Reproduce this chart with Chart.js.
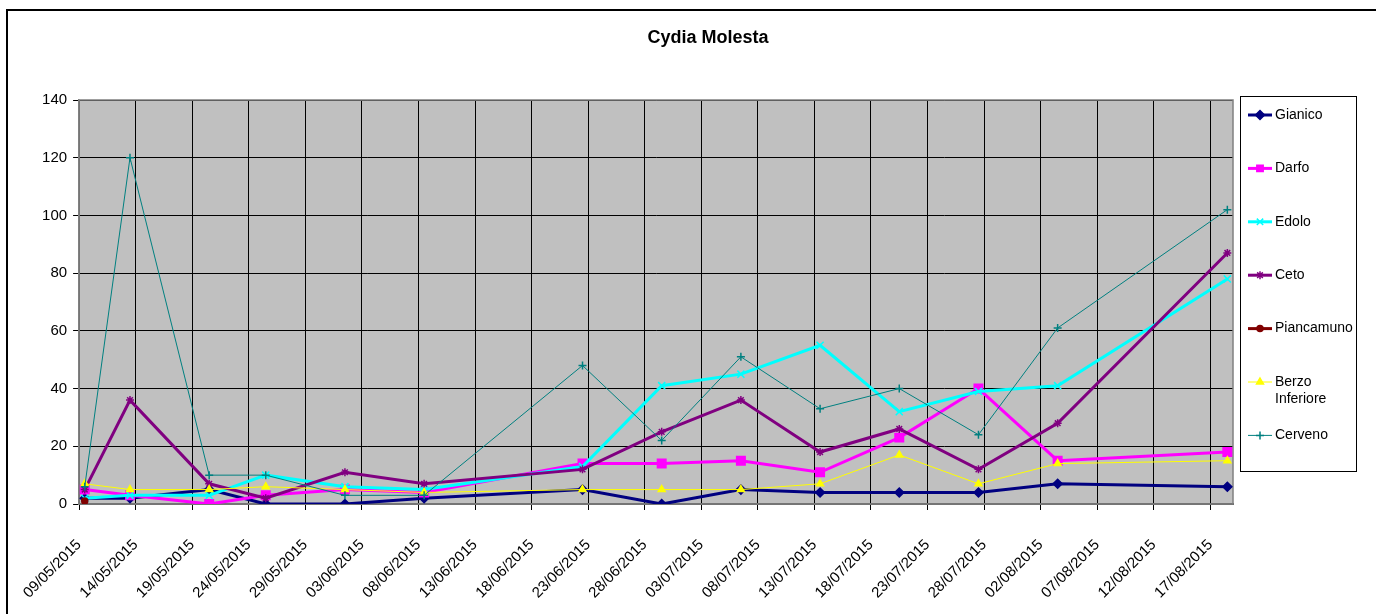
<!DOCTYPE html>
<html>
<head>
<meta charset="utf-8">
<title>Cydia Molesta</title>
<script src="https://cdn.jsdelivr.net/npm/chart.js@4.4.1/dist/chart.umd.min.js"></script>
<style>
  html, body { margin: 0; padding: 0; background: #fff; }
  #wrap { width: 1376px; height: 614px; }
</style>
</head>
<body>
<div id="wrap"><canvas id="chart" width="1376" height="614"></canvas></div>
<script>
// --- data ---
const chartTitle = 'Cydia Molesta';
const axisStart = '09/05/2015';
const axisDays = 102;   // 09/05 .. 19/08 (exclusive)

const sampleDates = ['09/05/2015', '13/05/2015', '20/05/2015', '25/05/2015', '01/06/2015',
    '08/06/2015', '22/06/2015', '29/06/2015', '06/07/2015', '13/07/2015',
    '20/07/2015', '27/07/2015', '03/08/2015', '18/08/2015'];

const tickLabels = ['09/05/2015', '14/05/2015', '19/05/2015', '24/05/2015', '29/05/2015',
    '03/06/2015', '08/06/2015', '13/06/2015', '18/06/2015', '23/06/2015',
    '28/06/2015', '03/07/2015', '08/07/2015', '13/07/2015', '18/07/2015',
    '23/07/2015', '28/07/2015', '02/08/2015', '07/08/2015', '12/08/2015', '17/08/2015'];

const seriesNames = ['Gianico', 'Darfo', 'Edolo', 'Ceto', 'Piancamuno', 'Berzo Inferiore', 'Cerveno'];

const gianico    = [2, 2, 5, 0, 0, 2, 5, 0, 5, 4, 4, 4, 7, 6];
const darfo      = [5, 3, 0, 3, 5, 4, 14, 14, 15, 11, 23, 40, 15, 18];
const edolo      = [2, 3, 3, 10, 6, 5, 13, 41, 45, 55, 32, 39, 41, 78];
const ceto       = [5, 36, 7, 2, 11, 7, 12, 25, 36, 18, 26, 12, 28, 87];
const piancamuno = [1, null, null, null, null, null, null, null, null, null, null, null, null, null];
const berzo      = [7, 5, 5, 6, 5, 4, 5, 5, 5, 7, 17, 7, 14, 15];
const cerveno    = [6, 120, 10, 10, 3, 3, 48, 22, 51, 33, 40, 24, 61, 102];

const yTicks = { min: 0, max: 140, step: 20 };

// --- helpers ---
function parseDay(s) {
    const p = s.split('/');
    return Date.UTC(+p[2], +p[1] - 1, +p[0]) / 86400000;
}
const day0 = parseDay(axisStart);

// Excel date axis: each point sits in the middle of its day slot
function toPoints(values) {
    return values.map((v, i) => ({ x: parseDay(sampleDates[i]) - day0 + 0.5, y: v }));
}

const FONT = 'Arial, "Liberation Sans", sans-serif';

const styles = [
    { color: '#000080', width: 3, point: 'rectRot', radius: 4.5 },
    { color: '#FF00FF', width: 3, point: 'rect', radius: 6 },
    { color: '#00FFFF', width: 3, point: 'crossRot', radius: 5 },
    { color: '#800080', width: 3, point: 'star', radius: 4 },
    { color: '#800000', width: 3, point: 'circle', radius: 3 },
    { color: '#FFFF00', width: 1, point: 'triangle', radius: 4 },
    { color: '#008080', width: 1, point: 'cross', radius: 4 }
];

const seriesValues = [gianico, darfo, edolo, ceto, piancamuno, berzo, cerveno];

const datasets = seriesValues.map((vals, i) => ({
    label: seriesNames[i],
    data: toPoints(vals),
    borderColor: styles[i].color,
    backgroundColor: styles[i].color,
    borderWidth: styles[i].width,
    pointStyle: styles[i].point,
    pointRadius: styles[i].radius,
    pointBackgroundColor: styles[i].color,
    pointBorderColor: styles[i].color,
    pointBorderWidth: 1.5,
    tension: 0,
    // Excel draws later series on top
    order: seriesValues.length - i
}));

// background, frame, plot area and title
const frame = {
    id: 'frame',
    beforeDraw(chart) {
        const ctx = chart.ctx, a = chart.chartArea;
        ctx.save();
        ctx.fillStyle = '#fff';
        ctx.fillRect(0, 0, chart.width, chart.height);
        ctx.fillStyle = '#C0C0C0';
        ctx.fillRect(a.left, a.top, a.right - a.left, a.bottom - a.top);
        ctx.strokeStyle = '#000';
        ctx.lineWidth = 2;
        ctx.beginPath();
        ctx.moveTo(7, chart.height);
        ctx.lineTo(7, 10);
        ctx.lineTo(chart.width, 10);
        ctx.stroke();

        ctx.fillStyle = '#000';
        ctx.font = 'bold 18px ' + FONT;
        ctx.textAlign = 'center';
        ctx.textBaseline = 'middle';
        ctx.fillText(chartTitle, 708, 38);
        ctx.restore();
    },
    beforeDatasetsDraw(chart) {
        const ctx = chart.ctx, a = chart.chartArea;
        ctx.save();
        ctx.strokeStyle = '#808080';
        ctx.lineWidth = 1.5;
        ctx.strokeRect(a.left, a.top, a.right - a.left, a.bottom - a.top);
        ctx.restore();
    }
};

// boxed legend on the right, Excel style
const legendBox = {
    id: 'legendBox',
    afterDraw(chart) {
        const ctx = chart.ctx;
        const bx = 1240.5, by = 96.5, bw = 116, bh = 375;
        ctx.save();
        ctx.fillStyle = '#fff';
        ctx.fillRect(bx, by, bw, bh);
        ctx.strokeStyle = '#000';
        ctx.lineWidth = 1;
        ctx.strokeRect(bx, by, bw, bh);

        ctx.font = '14px ' + FONT;
        ctx.textBaseline = 'middle';
        ctx.textAlign = 'left';
        chart.data.datasets.forEach((ds, i) => {
            const y = 115 + i * 53.4;
            ctx.strokeStyle = ds.borderColor;
            ctx.lineWidth = ds.borderWidth;
            ctx.beginPath();
            ctx.moveTo(1248, y);
            ctx.lineTo(1272, y);
            ctx.stroke();
            ctx.fillStyle = ds.pointBackgroundColor;
            ctx.strokeStyle = ds.pointBorderColor;
            ctx.lineWidth = ds.pointBorderWidth;
            if (Chart.helpers && Chart.helpers.drawPoint) {
                Chart.helpers.drawPoint(ctx, {
                    pointStyle: ds.pointStyle,
                    radius: Math.min(ds.pointRadius, 4.5),
                    rotation: 0,
                    borderWidth: ds.pointBorderWidth
                }, 1260, y);
            }
            // wrap long names onto two lines
            ctx.fillStyle = '#000';
            const words = ds.label.split(' ');
            const lines = [];
            let cur = '';
            words.forEach(w => {
                const t = cur ? cur + ' ' + w : w;
                if (cur && ctx.measureText(t).width > 78) { lines.push(cur); cur = w; }
                else cur = t;
            });
            lines.push(cur);
            lines.forEach((ln, k) => ctx.fillText(ln, 1275, y + k * 17.5));
        });
        ctx.restore();
    }
};

new Chart(document.getElementById('chart'), {
    type: 'line',
    data: { datasets: datasets },
    options: {
        responsive: false,
        animation: false,
        events: [],
        layout: { padding: { left: 8, top: 100, right: 143, bottom: 0 } },
        plugins: {
            legend: { display: false },
            title: { display: false },
            tooltip: { enabled: false }
        },
        scales: {
            x: {
                type: 'linear',
                min: 0,
                max: axisDays,
                afterFit(scale) { scale.height = 110; },
                border: { color: '#555', width: 2 },
                grid: { color: '#000', lineWidth: 1, tickLength: 6, drawOnChartArea: true },
                ticks: {
                    stepSize: 5,
                    includeBounds: false,
                    autoSkip: false,
                    maxRotation: 45,
                    minRotation: 45,
                    padding: 26,
                    color: '#000',
                    font: { family: FONT, size: 15 },
                    callback: (v) => tickLabels[Math.round(v / 5)] || ''
                }
            },
            y: {
                min: yTicks.min,
                max: yTicks.max,
                afterFit(scale) { scale.width = 70; },
                border: { color: '#808080', width: 1.5 },
                grid: { color: '#000', lineWidth: 1, tickLength: 6 },
                ticks: {
                    stepSize: yTicks.step,
                    padding: 6,
                    color: '#000',
                    font: { family: FONT, size: 15 }
                }
            }
        }
    },
    plugins: [frame, legendBox]
});
</script>
</body>
</html>
